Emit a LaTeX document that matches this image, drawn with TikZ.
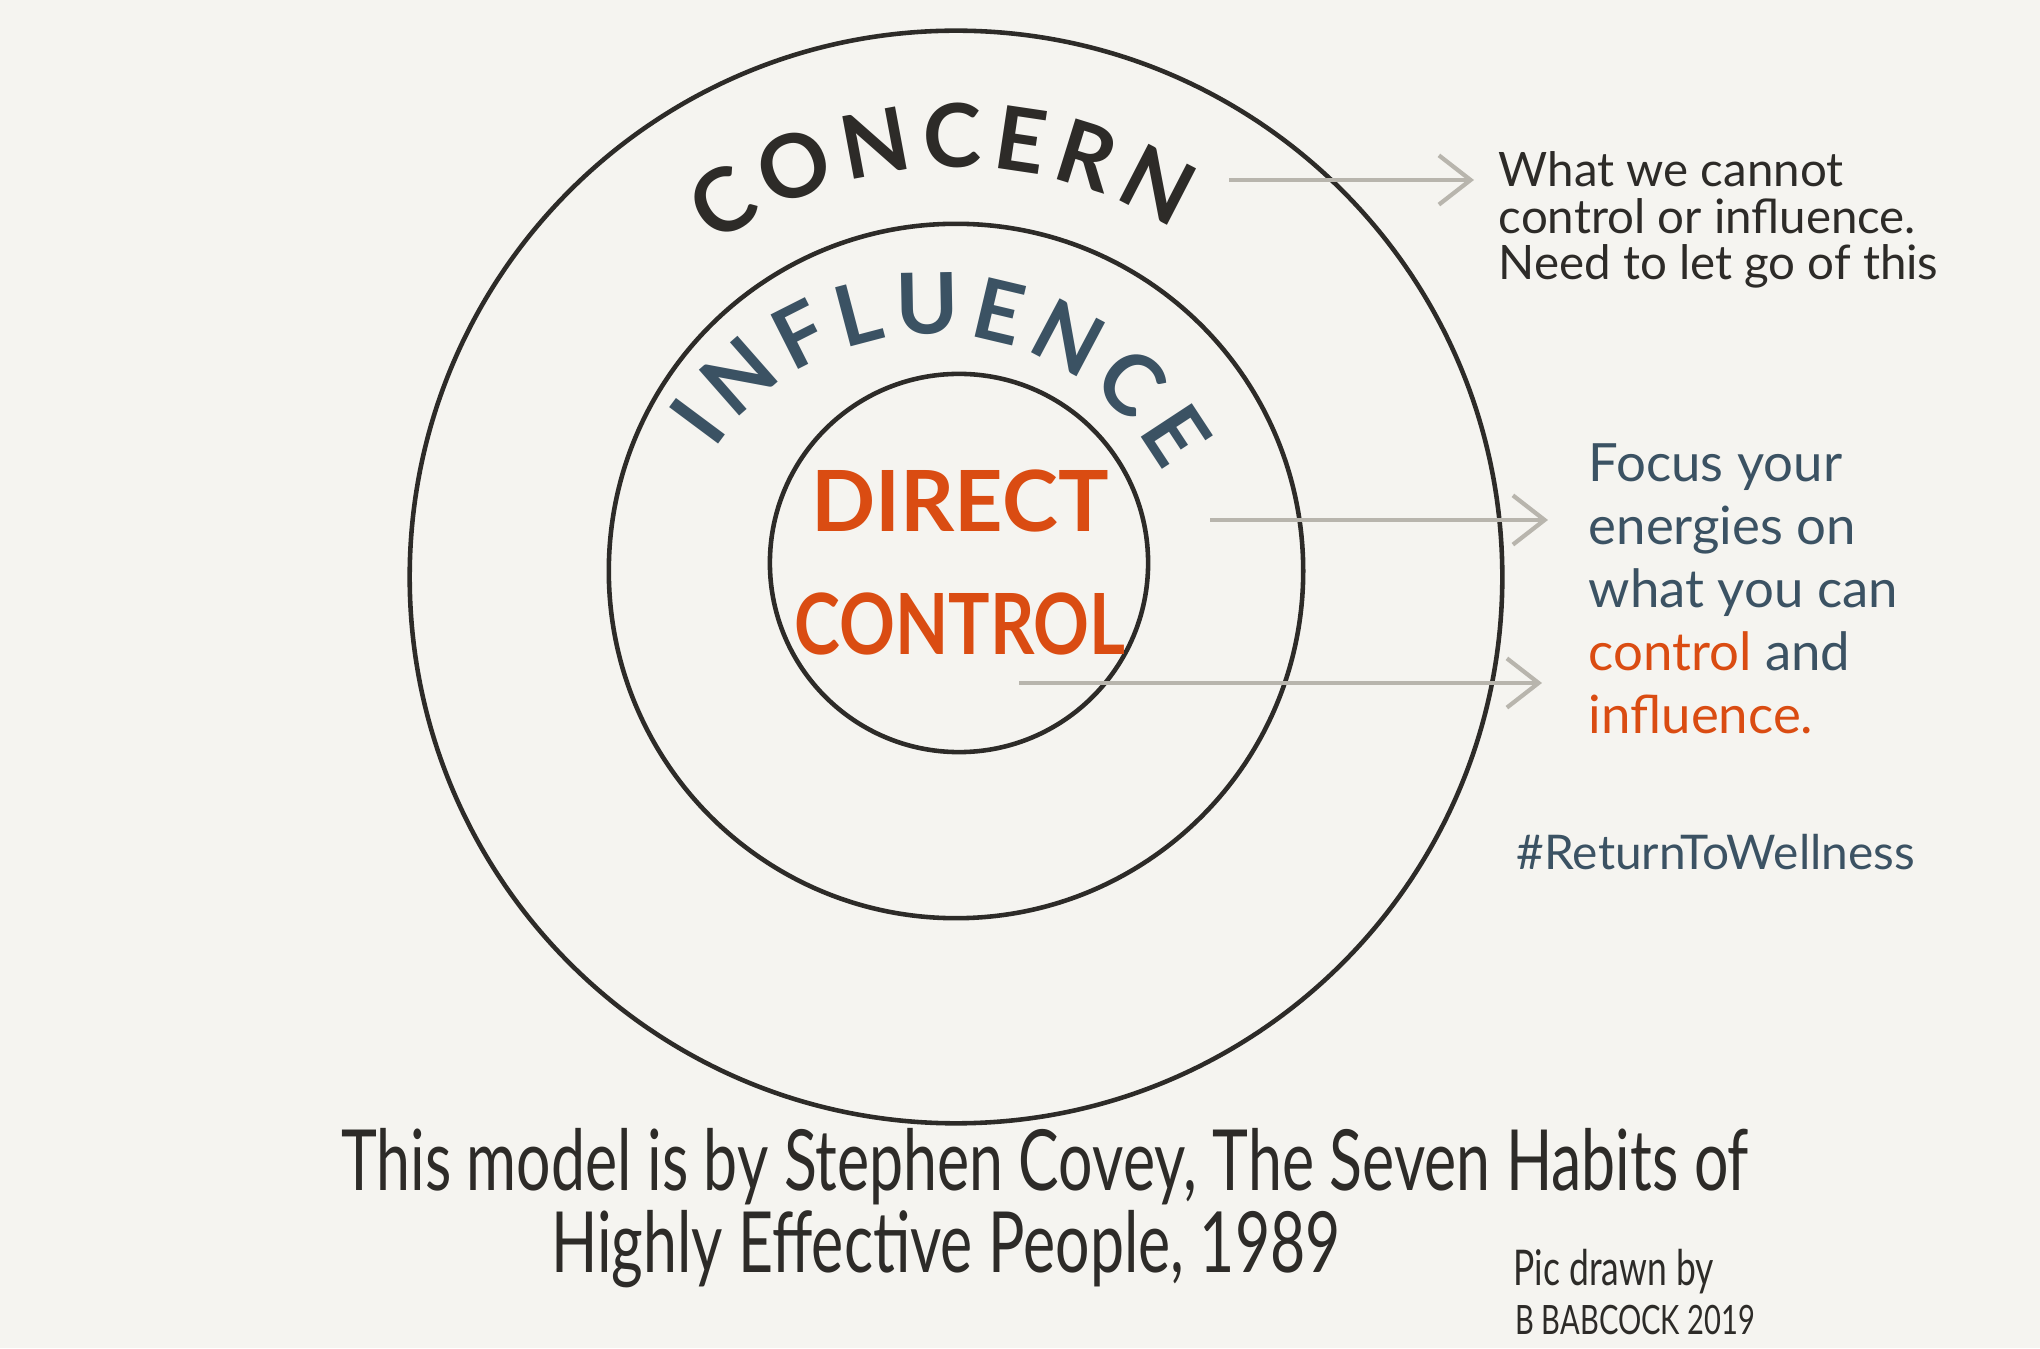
\documentclass[tikz,border=0pt]{standalone}
\usepackage{fontspec}
\setmainfont{Lato}
\newfontfamily\handfont[FakeStretch=0.72]{Lato}
\newfontfamily\narrowfont[FakeStretch=0.82]{Lato}
\usepackage{tikz}
\usetikzlibrary{arrows.meta,positioning,decorations.text}
\usepackage{xcolor}
\definecolor{cPaper}{RGB}{245,244,240}
\definecolor{cInk}{RGB}{45,43,40}
\definecolor{cSlate}{RGB}{59,82,99}
\definecolor{cRust}{RGB}{218,76,18}
\definecolor{cPencil}{RGB}{184,181,173}
\tikzset{
  ring/.style={circle,draw=cInk,line width=1.3pt,inner sep=0pt},
  ringword/.style={decorate,decoration={text along path,text align=fit to path}},
  bigword/.style={inner sep=0pt,text=cRust,font=\fontsize{24}{24}\selectfont\bfseries},
  note/.style={anchor=west,align=left,inner sep=0pt},
  notearr/.style={-{Straight Barb[length=9pt,width=14pt]},line width=1.2pt,color=cPencil},
  handnote/.style={inner sep=0pt,text=cInk,font=\handfont\fontsize{24}{24}\selectfont}
}

\begin{document}
\begin{tikzpicture}[x=0.01cm,y=0.01cm]
  \useasboundingbox (0,0) rectangle (2040,1348);
  \fill[cPaper] (0,0) rectangle (2040,1348);

  \node[ring,minimum size=10.92cm] (concern) at (956,771) {};
  \node[ring,minimum size=6.94cm] (influence) at (956,777) {};
  \node[ring,minimum size=3.78cm] (direct) at (959,785) {};

  \path[ringword,decoration={text color=cInk,
      text={|\fontsize{25}{25}\selectfont\bfseries|CONCERN}}]
    (concern.center) ++(126:410) arc[start angle=126,end angle=58,radius=410];
  \coordinate (inflarc) at (932,752);
  \path[ringword,decoration={text color=cSlate,
      text={|\fontsize{24}{24}\selectfont\bfseries|INFLUENCE}}]
    (inflarc) ++(146:262) arc[start angle=146,end angle=28,radius=262];

  \node[bigword] (directword) at (960,847) {DIRECT};
  \node[bigword,font=\narrowfont\fontsize{24}{24}\selectfont\bfseries,below=0.59cm of directword] (controlword) {CONTROL};

  \node[note,text=cInk,font=\fontsize{13.5}{13.2}\selectfont] (cannotnote) at (1498,1128)
    {What we cannot\\control or influence.\\Need to let go of this};
  \node[note,text=cSlate,font=\fontsize{15}{17.9}\selectfont] (focusnote) at (1588,759)
    {Focus your\\energies on\\what you can\\\textcolor{cRust}{control} and\\\textcolor{cRust}{influence.}};
  \node[note,text=cSlate,font=\fontsize{13.6}{13.6}\selectfont] (hashtag) at (1516,496) {\#ReturnToWellness};

  \coordinate (cannottail) at (1229,1168);
  \coordinate (focustail) at (1210,828);
  \coordinate (controltail) at (1019,665);
  \draw[notearr,shorten >=0.24cm] (cannottail) -- (cannottail -| cannotnote.west);
  \draw[notearr,shorten >=0.4cm] (focustail) -- (focustail -| focusnote.west);
  \draw[notearr,shorten >=0.46cm] (controltail) -- (controltail -| focusnote.west);

  \node[handnote] (caption) at (1045,181) {This model is by Stephen Covey, The Seven Habits of};
  \node[handnote] (captiontwo) at (946,99) {Highly Effective People, 1989};
  \node[note,text=cInk,font=\handfont\fontsize{14}{14}\selectfont] (credit) at (1513,76) {Pic drawn by};
  \node[note,text=cInk,font=\handfont\fontsize{11.5}{11.5}\selectfont] (creditname) at (1515,28) {B BABCOCK 2019};
\end{tikzpicture}
\end{document}
